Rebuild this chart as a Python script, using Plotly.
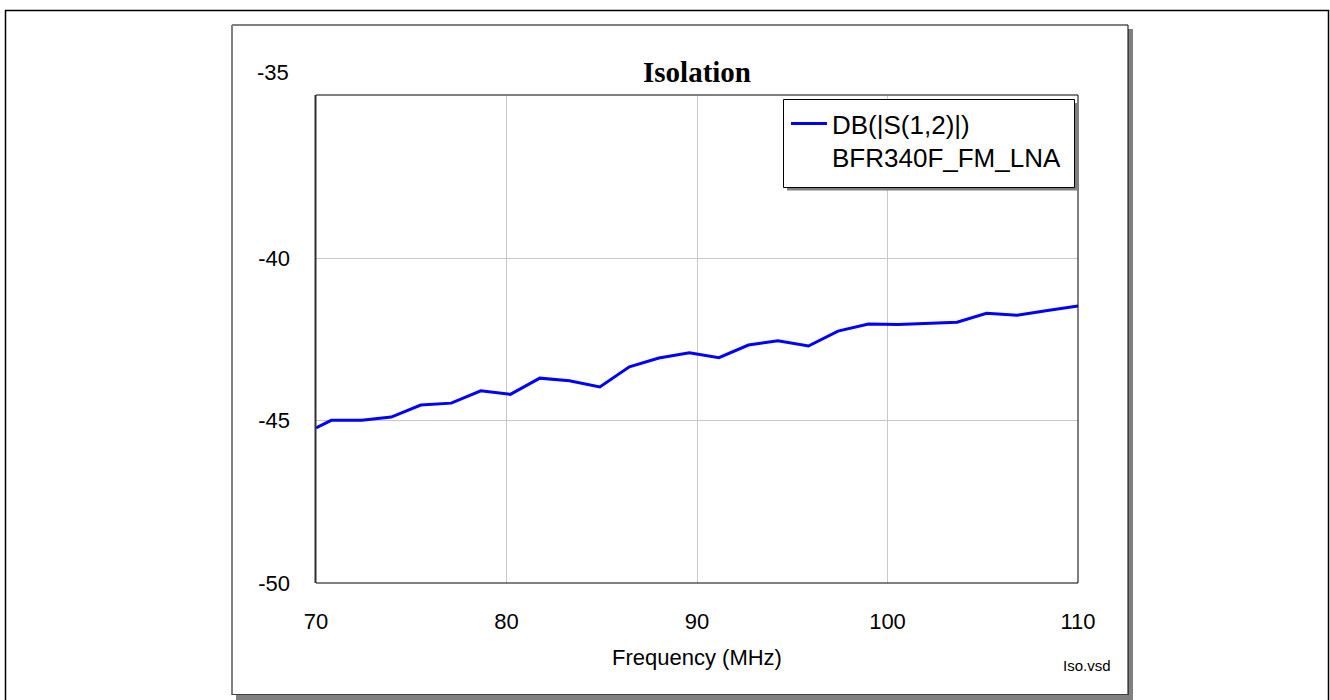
import plotly.graph_objects as go

# ---- data ----
freq_mhz = [70.0, 70.8, 72.4, 73.95, 75.5, 77.1, 78.65, 80.2, 81.75, 83.3, 84.9,
            86.45, 88.0, 89.6, 91.15, 92.7, 94.25, 95.85, 97.4, 99.0, 100.55,
            102.1, 103.65, 105.2, 106.8, 108.4, 110.0]
s12_db = [-45.22, -44.99, -44.99, -44.89, -44.52, -44.46, -44.08, -44.19, -43.69,
          -43.77, -43.96, -43.34, -43.07, -42.91, -43.06, -42.67, -42.54, -42.70,
          -42.24, -42.02, -42.04, -42.01, -41.97, -41.69, -41.75, -41.61, -41.47]
x_ticks = [70, 80, 90, 100, 110]
x_tick_labels = ["70", "80", "90", "100", "110"]
y_ticks = [-50, -45, -40, -35]
y_tick_labels = ["-50", "-45", "-40", "-35"]
trace_name = "DB(|S(1,2)|)<br>BFR340F_FM_LNA"

# ---- geometry (pixels) ----
W, H = 1330, 700
PL, PR, PT, PB = 316, 1078, 96, 583
pw, ph = PR - PL, PB - PT


def px(x):
    return (x - PL) / pw


def py(y):
    return (PB - y) / ph


fig = go.Figure()
fig.add_trace(go.Scatter(x=freq_mhz, y=s12_db, mode="lines", name=trace_name,
                         line=dict(color="#0000ff", width=3), showlegend=True))

shapes = []
# outer frame
shapes.append(dict(type="rect", xref="paper", yref="paper", x0=px(5.5), x1=px(1328.5),
                   y0=py(720), y1=py(10.5), line=dict(color="black", width=1.5),
                   fillcolor="rgba(0,0,0,0)", layer="below"))
# inner frame shadow
shapes.append(dict(type="rect", xref="paper", yref="paper", x0=px(236), x1=px(1133),
                   y0=py(700), y1=py(29), line=dict(width=0), fillcolor="#808080", layer="below"))
# inner frame
shapes.append(dict(type="rect", xref="paper", yref="paper", x0=px(232), x1=px(1128),
                   y0=py(695), y1=py(25), line=dict(width=0), fillcolor="white", layer="below"))
shapes.append(dict(type="line", xref="paper", yref="paper", x0=px(232), x1=px(1128),
                   y0=py(25), y1=py(25), line=dict(color="#808080", width=2), layer="below"))
shapes.append(dict(type="line", xref="paper", yref="paper", x0=px(232), x1=px(232),
                   y0=py(25), y1=py(695), line=dict(color="#808080", width=2), layer="below"))
shapes.append(dict(type="line", xref="paper", yref="paper", x0=px(1128), x1=px(1128),
                   y0=py(25), y1=py(695), line=dict(color="black", width=1), layer="below"))
shapes.append(dict(type="line", xref="paper", yref="paper", x0=px(232), x1=px(1128),
                   y0=py(694.5), y1=py(694.5), line=dict(color="#404040", width=1), layer="below"))
# plot-area borders
shapes.append(dict(type="line", xref="paper", yref="paper", x0=0, x1=1, y0=py(95), y1=py(95),
                   line=dict(color="#808080", width=2)))
shapes.append(dict(type="line", xref="paper", yref="paper", x0=px(315.5), x1=px(315.5), y0=0, y1=py(95),
                   line=dict(color="#303030", width=2)))
shapes.append(dict(type="line", xref="paper", yref="paper", x0=1, x1=1, y0=0, y1=py(95),
                   line=dict(color="black", width=1)))
shapes.append(dict(type="line", xref="paper", yref="paper", x0=0, x1=1, y0=0, y1=0,
                   line=dict(color="black", width=1)))
# legend shadow and box
shapes.append(dict(type="rect", xref="paper", yref="paper", x0=px(787), x1=px(1078),
                   y0=py(190.5), y1=py(103), line=dict(width=0), fillcolor="#808080"))
shapes.append(dict(type="rect", xref="paper", yref="paper", x0=px(783.5), x1=px(1074.5),
                   y0=py(187.5), y1=py(99.5), line=dict(color="black", width=1), fillcolor="white"))

annotations = [
    dict(text=y_tick_labels[-1], xref="paper", yref="y", x=px(291), y=y_ticks[-1], yshift=24,
         xanchor="right", yanchor="middle", showarrow=False,
         font=dict(family="Liberation Sans, Arial", size=22, color="black")),
    dict(text="Frequency (MHz)", xref="paper", yref="paper", x=0.5, y=py(657),
         xanchor="center", yanchor="middle", showarrow=False,
         font=dict(family="Liberation Sans, Arial", size=22, color="black")),
    dict(text="Iso.vsd", xref="paper", yref="paper", x=px(1087), y=py(665),
         xanchor="center", yanchor="middle", showarrow=False,
         font=dict(family="Liberation Sans, Arial", size=15, color="black")),
]

fig.update_layout(
    width=W, height=H,
    margin=dict(l=PL, r=W - PR, t=PT, b=H - PB, pad=0),
    paper_bgcolor="white", plot_bgcolor="white",
    title=dict(text="<b>Isolation</b>", x=px(697), xref="paper", xanchor="center",
               y=1 - 72 / H, yref="container", yanchor="middle",
               font=dict(family="Liberation Serif, Times New Roman", size=29, color="black")),
    xaxis=dict(range=[70, 110], tickvals=x_ticks, ticktext=x_tick_labels, ticks="",
               showline=False, zeroline=False,
               showgrid=True, gridcolor="#c8c8c8", gridwidth=1, ticklabelstandoff=23,
               tickfont=dict(family="Liberation Sans, Arial", size=22, color="black")),
    yaxis=dict(range=[-50, -35], tickvals=y_ticks[:-1], ticktext=y_tick_labels[:-1], ticks="",
               showline=False, zeroline=False,
               showgrid=True, gridcolor="#c8c8c8", gridwidth=1, ticklabelstandoff=25,
               tickfont=dict(family="Liberation Sans, Arial", size=22, color="black")),
    legend=dict(x=px(786), y=py(100), xanchor="left", yanchor="top", bgcolor="rgba(0,0,0,0)",
                borderwidth=0, valign="top", itemwidth=36, tracegroupgap=0,
                font=dict(family="Liberation Sans, Arial", size=26, color="black")),
    shapes=shapes, annotations=annotations, showlegend=True,
)

fig.write_html("out.html")
